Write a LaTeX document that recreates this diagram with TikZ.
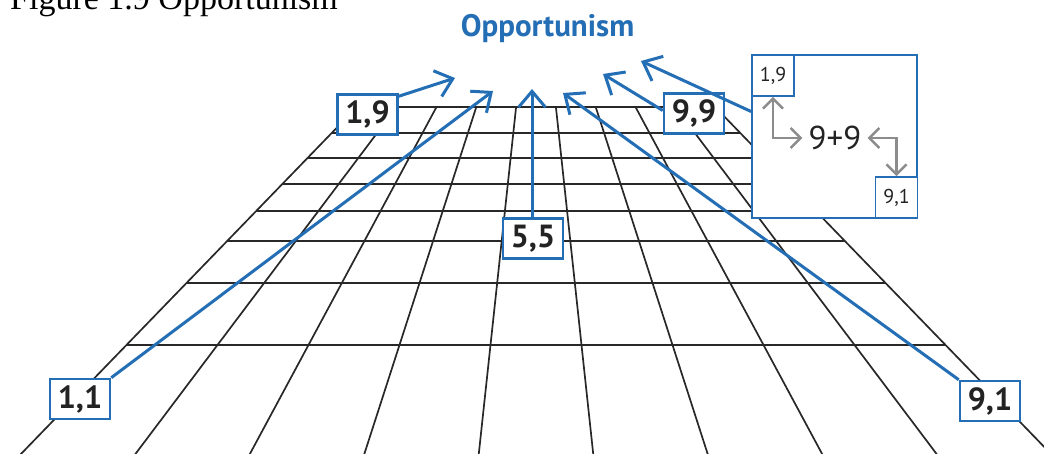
\documentclass[tikz,border=0pt]{standalone}
\usepackage{fontspec}
\setmainfont{Liberation Serif}
\newfontfamily\labfont{PT Sans}
\usetikzlibrary{arrows.meta}
\definecolor{oppblue}{RGB}{35,110,180}
\definecolor{gridc}{RGB}{40,40,40}
\definecolor{arrgray}{RGB}{140,140,140}
\definecolor{txt}{RGB}{35,35,35}
\tikzset{
  gridline/.style={draw=gridc, line width=1.7pt},
  labbox/.style={draw=oppblue, line width=2.5pt, fill=white, minimum width=60pt, minimum height=40pt, inner sep=0pt, text=txt, font=\labfont\bfseries\fontsize{32}{32}\selectfont},
  smallbox/.style={draw=oppblue, line width=1.8pt, fill=white, minimum width=42pt, minimum height=41pt, inner sep=0pt, text=txt, font=\labfont\fontsize{20}{20}\selectfont},
  bigbox/.style={draw=oppblue, line width=1.8pt, fill=white, minimum width=165pt, minimum height=163pt, inner sep=0pt},
  bluearrow/.style={draw=oppblue, line width=3pt, -{Straight Barb[length=16pt, width=27pt]}},
  grayarrow/.style={draw=arrgray, line width=2.5pt, {Straight Barb[length=10pt, width=20pt]}-{Straight Barb[length=10pt, width=20pt]}},
}
\begin{document}
\begin{tikzpicture}[x=1pt, y=-1pt]
\clip (0,0) rectangle (1044,454);
\fill[white] (0,0) rectangle (1044,454);
% title (cut off at top)
\node[anchor=base west, inner sep=0pt, font=\fontsize{34}{34}\selectfont] (fig) at (10,10) {Figure 1.9 Opportunism};
\node[anchor=base, inner sep=0pt, text=oppblue, font=\labfont\bfseries\fontsize{31}{31}\selectfont] (title) at (547.5,37) {Opportunism};
% grid
\foreach \i in {0,...,9} {
  \draw[gridline] ({536+(\i-4.5)*39.8},107) -- ({536+(\i-4.5)*117.9},470);
}
\foreach \yy in {107,133,158,184,211,241,283,345} {
  \draw[gridline] ({536-0.968*(\yy+78)},\yy) -- ({536+0.968*(\yy+78)},\yy);
}
% boxes
\node[bigbox] (big) at (834.5,136.5) {};
\node[smallbox] (s19) at (773,75.5) {1,9};
\node[smallbox] (s91) at (896.5,197.5) {9,1};
\node[inner xsep=6pt, inner ysep=0pt, text=txt, font=\labfont\fontsize{33}{33}\selectfont] (sum) at (835,138) {9+9};
\draw[grayarrow] (s19.south) |- (sum.west);
\draw[grayarrow] (sum.east) -| (s91.north);
\node[labbox] (n19) at (367.5,114.5) {1,9};
\node[labbox] (n99) at (694,113.5) {9,9};
\node[labbox] (n55) at (533,238.5) {5,5};
\node[labbox] (n11) at (80,399) {1,1};
\node[labbox] (n91) at (990,401) {9,1};
% arrow tips
\coordinate (t1) at (455,78);
\coordinate (t2) at (493,91);
\coordinate (t3) at (532,89);
\coordinate (t4) at (563,93);
\coordinate (t5) at (603,74);
\coordinate (t6) at (641,61);
\draw[bluearrow] ([yshift=-3pt]n19.north east) -- (t1);
\draw[bluearrow] (n11.north east) -- (t2);
\draw[bluearrow] ([xshift=-1pt]n55.north) -- (t3);
\draw[bluearrow] (n91.north west) -- (t4);
\draw[bluearrow] ([yshift=3pt]n99.west) -- (t5);
\draw[bluearrow] ([yshift=25pt]big.west) -- (t6);
\end{tikzpicture}
\end{document}
